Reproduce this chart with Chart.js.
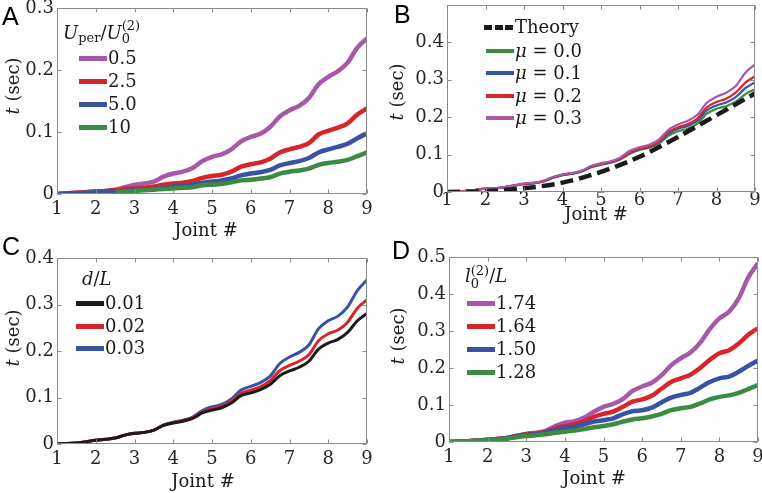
<!DOCTYPE html>
<html><head><meta charset="utf-8">
<script src="https://cdn.jsdelivr.net/npm/chart.js@4/dist/chart.umd.min.js"></script>
<style>
html,body{margin:0;padding:0;background:#fff}
body{width:762px;height:493px;overflow:hidden;position:relative;font-family:'DejaVu Serif',serif;color:#1a1a1a}
canvas{position:absolute}
.plet{position:absolute;font-family:'Liberation Sans',Arial,sans-serif;font-size:25px;line-height:1;color:#000}
.txt{position:absolute;font-size:18px;line-height:1;white-space:nowrap}
.ytitle{position:absolute;font-size:18px;line-height:1;white-space:nowrap;transform:translate(-50%,-50%) rotate(-90deg)}
.sw{position:absolute}
.ss{display:inline-block;vertical-align:middle;line-height:1;text-align:left}
.ss span{display:block;font-size:13px}
</style>
</head><body>
<script>
// ---------------- data ----------------
const joints = [1,1.25,1.5,1.75,2,2.25,2.5,2.75,3,3.25,3.5,3.75,4,4.25,4.5,4.75,5,5.25,5.5,5.75,6,6.25,6.5,6.75,7,7.25,7.5,7.75,8,8.25,8.5,8.75,9];
const jointTicks = [1,2,3,4,5,6,7,8,9];

// Panel A: U_per/U_0^(2)
const aLabels = ['0.5','2.5','5.0','10'];
const aU05 = [0,0.001,0.002,0.003,0.004,0.005,0.007,0.011,0.015,0.017,0.020,0.028,0.033,0.036,0.042,0.053,0.060,0.064,0.072,0.085,0.092,0.097,0.108,0.125,0.135,0.142,0.155,0.177,0.189,0.198,0.212,0.236,0.251];
const aU25 = [0,0.001,0.002,0.003,0.004,0.005,0.006,0.008,0.009,0.010,0.012,0.015,0.017,0.018,0.021,0.026,0.029,0.031,0.036,0.044,0.048,0.051,0.057,0.067,0.072,0.076,0.082,0.096,0.102,0.107,0.114,0.128,0.138];
const aU50 = [0,0.001,0.001,0.002,0.003,0.003,0.004,0.005,0.006,0.007,0.008,0.010,0.012,0.013,0.015,0.018,0.020,0.022,0.025,0.030,0.033,0.035,0.039,0.046,0.050,0.053,0.058,0.067,0.072,0.076,0.081,0.090,0.098];
const aU10 = [null,null,null,null,null,null,0.003,0.004,0.005,0.006,0.007,0.008,0.009,0.010,0.011,0.014,0.015,0.016,0.019,0.022,0.023,0.025,0.027,0.033,0.036,0.038,0.041,0.047,0.050,0.052,0.055,0.061,0.067];

// Panel B: friction mu
const bLabels = ['Theory','0.0','0.1','0.2','0.3'];
const bTheoryJoints = [1,2,3,4,5,6,7,8,9];
const bTheory = [0,0.002,0.010,0.025,0.054,0.094,0.147,0.205,0.263];
const bMu00 = [0,0.001,0.003,0.006,0.009,0.010,0.013,0.017,0.021,0.023,0.028,0.038,0.045,0.049,0.055,0.066,0.073,0.078,0.087,0.102,0.112,0.118,0.129,0.150,0.162,0.169,0.182,0.209,0.222,0.229,0.241,0.261,0.274];
const bMu01 = [0,0.001,0.003,0.006,0.009,0.010,0.013,0.017,0.021,0.023,0.028,0.038,0.045,0.049,0.055,0.067,0.074,0.079,0.088,0.105,0.114,0.120,0.132,0.156,0.169,0.176,0.190,0.218,0.231,0.239,0.253,0.277,0.293];
const bMu02 = [0,0.001,0.003,0.006,0.009,0.010,0.013,0.018,0.022,0.024,0.029,0.039,0.046,0.050,0.056,0.068,0.075,0.080,0.089,0.106,0.115,0.121,0.134,0.160,0.173,0.181,0.196,0.226,0.240,0.249,0.265,0.292,0.309];
const bMu03 = [0,0.001,0.003,0.006,0.009,0.010,0.013,0.018,0.023,0.025,0.030,0.040,0.047,0.051,0.057,0.070,0.077,0.082,0.092,0.110,0.119,0.126,0.140,0.166,0.180,0.190,0.206,0.238,0.254,0.265,0.283,0.318,0.341];

// Panel C: d/L
const cLabels = ['0.01','0.02','0.03'];
const cD001 = [0.001,0.001,0.002,0.005,0.008,0.010,0.013,0.019,0.023,0.025,0.030,0.040,0.045,0.049,0.055,0.067,0.073,0.078,0.088,0.104,0.110,0.117,0.128,0.147,0.157,0.165,0.178,0.204,0.217,0.225,0.240,0.265,0.281];
const cD002 = [0.001,0.001,0.002,0.005,0.008,0.010,0.013,0.019,0.023,0.025,0.030,0.040,0.046,0.050,0.056,0.069,0.076,0.081,0.092,0.109,0.116,0.123,0.136,0.158,0.169,0.178,0.192,0.222,0.237,0.245,0.262,0.292,0.310];
const cD003 = [0.001,0.001,0.002,0.005,0.008,0.010,0.013,0.019,0.023,0.025,0.030,0.041,0.047,0.051,0.058,0.072,0.080,0.085,0.097,0.116,0.124,0.132,0.146,0.173,0.187,0.197,0.213,0.248,0.265,0.275,0.295,0.330,0.353];

// Panel D: l_0^(2)/L
const dLabels = ['1.74','1.64','1.50','1.28'];
const dL174 = [0,0.001,0.002,0.004,0.006,0.008,0.011,0.017,0.022,0.025,0.030,0.043,0.052,0.056,0.066,0.082,0.095,0.103,0.116,0.138,0.150,0.160,0.180,0.207,0.226,0.242,0.268,0.305,0.334,0.352,0.388,0.445,0.483];
const dL164 = [0,0.001,0.002,0.004,0.006,0.008,0.011,0.016,0.021,0.023,0.027,0.037,0.043,0.048,0.056,0.068,0.076,0.082,0.095,0.109,0.115,0.125,0.144,0.162,0.172,0.182,0.200,0.222,0.240,0.248,0.266,0.290,0.307];
const dL150 = [0,0.001,0.002,0.004,0.006,0.008,0.010,0.015,0.019,0.021,0.025,0.032,0.037,0.041,0.048,0.055,0.059,0.064,0.075,0.083,0.086,0.093,0.107,0.120,0.127,0.133,0.147,0.162,0.172,0.177,0.190,0.206,0.220];
const dL128 = [0,0.001,0.002,0.004,0.005,0.007,0.009,0.013,0.016,0.018,0.021,0.025,0.028,0.031,0.035,0.040,0.043,0.048,0.055,0.061,0.064,0.069,0.076,0.086,0.091,0.095,0.104,0.115,0.122,0.126,0.133,0.143,0.154];

// ---------------- styling ----------------
const COL = {purple:'#a659a8', red:'#d7262b', blue:'#3953a4', green:'#3b8b42', black:'#1b1b1b'};
const SERIF = "'DejaVu Serif',serif";

const pts = (xs, ys) => ys.map((v,i)=>({x:xs[i], y:v}));

const boxPlugin = {
  id:'matlabBox',
  afterDatasetsDraw(chart){
    const {ctx, chartArea:a, scales:{x,y}} = chart;
    const L=Math.round(a.left)+0.5, R=Math.round(a.right)-0.5, T=Math.round(a.top)+0.5, B=Math.round(a.bottom)-0.5;
    ctx.save();
    ctx.strokeStyle='#8a8a8a'; ctx.lineWidth=1;
    ctx.strokeRect(L,T,R-L,B-T);
    const len=4;
    ctx.beginPath();
    x.ticks.forEach(t=>{const p=Math.round(x.getPixelForValue(t.value))+0.5; ctx.moveTo(p,B); ctx.lineTo(p,B-len); ctx.moveTo(p,T); ctx.lineTo(p,T+len);});
    y.ticks.forEach(t=>{const p=Math.round(y.getPixelForValue(t.value))+0.5; ctx.moveTo(L,p); ctx.lineTo(L+len,p); ctx.moveTo(R,p); ctx.lineTo(R-len,p);});
    ctx.stroke();
    ctx.restore();
  }
};

function makeChart(cfg){
  const cv = document.createElement('canvas');
  cv.width = cfg.w; cv.height = cfg.h;
  cv.style.left = cfg.left+'px'; cv.style.top = cfg.top+'px';
  cv.style.width = cfg.w+'px'; cv.style.height = cfg.h+'px';
  document.body.appendChild(cv);
  return new Chart(cv, {
    type:'line',
    data:{datasets:cfg.datasets},
    plugins:[boxPlugin],
    options:{
      responsive:false, animation:false, devicePixelRatio:1,
      layout:{padding:{left:0, top:cfg.padTop, right:cfg.padRight, bottom:0}},
      plugins:{legend:{display:false}, tooltip:{enabled:false}},
      elements:{point:{radius:0}, line:{cubicInterpolationMode:'monotone', borderCapStyle:'butt'}},
      scales:{
        x:{type:'linear', min:1, max:9,
           afterBuildTicks(s){ s.ticks = jointTicks.map(v=>({value:v})); },
           afterFit(s){ s.height = cfg.xh; },
           grid:{display:false, drawTicks:false}, border:{display:false},
           ticks:{padding:cfg.xpad, color:'#262626', font:{family:SERIF, size:18, lineHeight:1}, maxRotation:0}},
        y:{type:'linear', min:0, max:cfg.ymax,
           afterBuildTicks(s){ s.ticks = cfg.yticks.map(v=>({value:v})); },
           afterFit(s){ s.width = cfg.yw; },
           grid:{display:false, drawTicks:false}, border:{display:false},
           ticks:{padding:3, color:'#262626', font:{family:SERIF, size:18, lineHeight:1},
                  callback:(v)=> v===0 ? '0' : v.toFixed(1)}}
      }
    }
  });
}

function ds(xs, ys, color, width, order, extra){
  return Object.assign({data:pts(xs,ys), borderColor:color, backgroundColor:color, borderWidth:width, order:order, spanGaps:false, fill:false}, extra||{});
}

// Panel A
makeChart({left:0, top:-12, w:381, h:257, padTop:20, padRight:14, yw:57, xh:51, xpad:6, ymax:0.3, yticks:[0,0.1,0.2,0.3],
  datasets:[ds(joints,aU05,COL.purple,4.5,3), ds(joints,aU25,COL.red,4.5,2), ds(joints,aU50,COL.blue,4.5,1), ds(joints,aU10,COL.green,4.5,0)]});
// Panel B
makeChart({left:381, top:-15, w:390, h:260, padTop:20, padRight:16, yw:66, xh:53, xpad:-1, ymax:0.499, yticks:[0,0.1,0.2,0.3,0.4],
  datasets:[ds(bTheoryJoints,bTheory,COL.black,4.5,0,{borderDash:[13,6]}), ds(joints,bMu03,COL.purple,2.2,1), ds(joints,bMu02,COL.red,2.2,2), ds(joints,bMu01,COL.blue,2.2,3), ds(joints,bMu00,COL.green,2.2,4)]});
// Panel C
makeChart({left:0, top:240, w:381, h:253, padTop:18, padRight:14, yw:57, xh:49, xpad:6, ymax:0.4, yticks:[0,0.1,0.2,0.3,0.4],
  datasets:[ds(joints,cD001,COL.black,3,0), ds(joints,cD002,COL.red,3,1), ds(joints,cD003,COL.blue,3,2)]});
// Panel D
makeChart({left:381, top:240, w:390, h:253, padTop:17, padRight:13, yw:68, xh:51, xpad:6, ymax:0.5, yticks:[0,0.1,0.2,0.3,0.4,0.5],
  datasets:[ds(joints,dL174,COL.purple,4.5,3), ds(joints,dL164,COL.red,4.5,2), ds(joints,dL150,COL.blue,4.5,1), ds(joints,dL128,COL.green,4.5,0)]});

// ---------------- text overlays ----------------
function addHTML(cls, left, top, html){
  const d=document.createElement('div'); d.className=cls; d.style.left=left+'px'; d.style.top=top+'px'; d.innerHTML=html; document.body.appendChild(d); return d;
}
// panel letters
addHTML('plet',2,4,'A'); addHTML('plet',394,2,'B'); addHTML('plet',2,234,'C'); addHTML('plet',392,238,'D');
// axis titles
const jt = 'Joint #';
[[206,221],[596,205],[203,472],[594,469]].forEach(p=>{ const d=addHTML('txt',p[0],p[1],jt); d.style.transform='translateX(-50%)'; });
const yt = '<i>t</i> (sec)';
[[13,86],[397,92],[13,338],[398,336]].forEach(p=>addHTML('ytitle',p[0],p[1],yt));

// legends
function legend(swL, swW, rows, labels, colors, thick, prefix){
  labels.forEach((lab,i)=>{
    const s=document.createElement('div'); s.className='sw';
    s.style.left=swL+'px'; s.style.width=swW+'px'; s.style.top=(rows[i]-thick/2)+'px'; s.style.height=thick+'px'; s.style.background=colors[i];
    document.body.appendChild(s);
    addHTML('txt', swL+swW+1, rows[i]-9, (prefix||'')+lab);
  });
}
// A
addHTML('txt',63,23,'<i>U</i><span class="ss" style="margin-top:6px"><span>per</span></span>/<i>U</i><span class="ss" style="margin-top:-4px"><span>(2)</span><span>0</span></span>');
legend(79,28,[58,81,104,127],aLabels,[COL.purple,COL.red,COL.blue,COL.green],5);
// B
(function(){
  const y=27; [0,1,2].forEach(k=>{ const s=document.createElement('div'); s.className='sw'; s.style.left=(484+k*10.5)+'px'; s.style.top=(y-2.5)+'px'; s.style.width='8px'; s.style.height='5px'; s.style.background=COL.black; document.body.appendChild(s); });
  addHTML('txt',515,y-9,bLabels[0]);
})();
legend(486,28,[51,73,96,118],bLabels.slice(1),[COL.green,COL.blue,COL.red,COL.purple],4,'<i>μ</i> = ');
// C
addHTML('txt',82,270,'<i>d</i>/<i>L</i>');
legend(76,28,[303,326,348],cLabels,[COL.black,COL.red,COL.blue],5);
// D
addHTML('txt',465,264,'<i>l</i><span class="ss"><span>(2)</span><span>0</span></span>/<i>L</i>');
legend(467,28,[303,326,349,372],dLabels,[COL.purple,COL.red,COL.blue,COL.green],5);
</script>
</body></html>
